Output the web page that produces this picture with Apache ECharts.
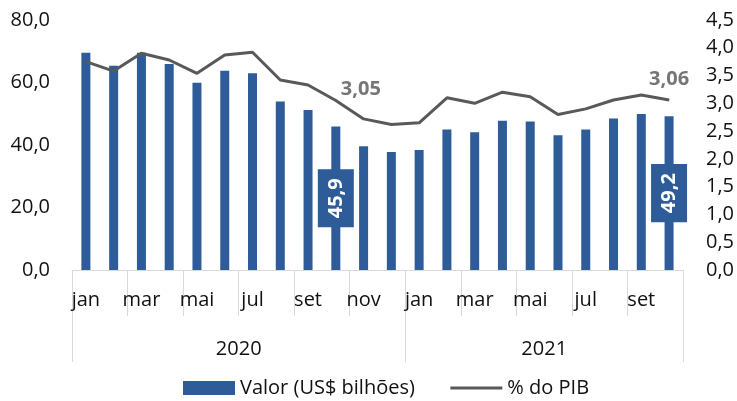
<!DOCTYPE html>
<html>
<head>
<meta charset="utf-8">
<title>Valor e % do PIB</title>
<script src="https://cdn.jsdelivr.net/npm/echarts@6/dist/echarts.min.js"></script>
<style>
  html, body { margin: 0; padding: 0; background: #fff; }
  #chart { width: 737px; height: 401px; }
</style>
</head>
<body>
<div id="chart"></div>
<script>
var years = ['2020', '2021'];
var months2020 = ['jan', 'fev', 'mar', 'abr', 'mai', 'jun', 'jul', 'ago', 'set', 'out', 'nov', 'dez'];
var months2021 = ['jan', 'fev', 'mar', 'abr', 'mai', 'jun', 'jul', 'ago', 'set', 'out'];

// US$ bilhões
var valor = [69.5, 65.4, 69.5, 65.9, 59.9, 63.8, 63.0, 53.9, 51.2, 45.9, 39.6, 37.8,
             38.4, 45.0, 44.1, 47.8, 47.5, 43.1, 45.0, 48.5, 49.9, 49.2];
// % do PIB
var pib = [3.75, 3.58, 3.90, 3.78, 3.54, 3.87, 3.92, 3.42, 3.33, 3.05, 2.72, 2.62,
           2.65, 3.10, 3.00, 3.20, 3.12, 2.80, 2.90, 3.06, 3.15, 3.06];

var leftTicks = [0, 80, 20];
var rightTicks = [0, 4.5, 0.5];

var labelIdx = [9, 21];

var categories = months2020.concat(months2021);
var yearOf = [];
var yearStart = [0, months2020.length];
for (var i = 0; i < months2020.length; i++) yearOf.push(years[0]);
for (var j = 0; j < months2021.length; j++) yearOf.push(years[1]);
// middle month of each year block (label shifted half a band to the right)
var yearMid = [5, months2020.length + 4];

var FONT = 'Open Sans';
var BLUE = '#2E5C98';
var GREY_LINE = '#595959';
var AXIS_GREY = '#D9D9D9';

function comma(v, d){
  return Number(v).toFixed(d).replace('.', ',');
}

var barData = [];
var lineData = [];
for (var k = 0; k < valor.length; k++) {
  var b = { value: valor[k] };
  var l = { value: pib[k] };
  if (labelIdx.indexOf(k) >= 0) {
    b.label = { show: true };
    // a tiny symbol is needed so the line label gets drawn
    l.symbol = 'circle';
    l.symbolSize = 1;
    l.label = { show: true, offset: k === labelIdx[0] ? [25, 4] : [0, -5] };
  }
  barData.push(b);
  lineData.push(l);
}

var chart = echarts.init(document.getElementById('chart'));

var option = {
  animation: false,
  textStyle: { fontFamily: FONT },
  grid: { left: 72, right: 54, top: 20, bottom: 131 },
  legend: {
    left: 178,
    bottom: -2,
    itemWidth: 52,
    itemHeight: 14,
    itemGap: 34,
    textStyle: { fontFamily: FONT, fontSize: 20, color: '#111' },
    data: [
      { name: 'Valor (US$ bilhões)', icon: 'rect' },
      { name: '% do PIB', itemStyle: { opacity: 0 }, lineStyle: { width: 3, color: GREY_LINE } }
    ]
  },
  xAxis: [{
    type: 'category',
    data: categories,
    position: 'bottom',
    axisLine: { lineStyle: { color: AXIS_GREY, width: 1 } },
    axisTick: { show: true, length: 46, lineStyle: { color: AXIS_GREY, width: 1 } },
    axisLabel: { interval: 1, margin: 20, fontSize: 20, color: '#111', fontFamily: FONT }
  }, {
    type: 'category',
    data: yearOf,
    position: 'bottom',
    axisLine: { show: false },
    axisTick: {
      show: true,
      length: 92,
      interval: function(idx){ return yearStart.indexOf(idx) >= 0; },
      lineStyle: { color: AXIS_GREY, width: 1 }
    },
    axisLabel: {
      interval: function(idx){ return yearMid.indexOf(idx) >= 0; },
      margin: 69,
      padding: [0, 0, 0, 28],
      fontSize: 20,
      color: '#111',
      fontFamily: FONT
    }
  }],
  yAxis: [{
    type: 'value',
    min: leftTicks[0], max: leftTicks[1], interval: leftTicks[2],
    axisLine: { show: false },
    axisTick: { show: false },
    splitLine: { show: false },
    axisLabel: {
      margin: 22, fontSize: 20, color: '#111', fontFamily: FONT,
      formatter: function(v){ return comma(v, 1); }
    }
  }, {
    type: 'value',
    min: rightTicks[0], max: rightTicks[1], interval: rightTicks[2],
    axisLine: { show: false },
    axisTick: { show: false },
    splitLine: { show: false },
    axisLabel: {
      margin: 23, fontSize: 20, color: '#111', fontFamily: FONT,
      formatter: function(v){ return comma(v, 1); }
    }
  }],
  series: [{
    name: 'Valor (US$ bilhões)',
    type: 'bar',
    xAxisIndex: 0,
    yAxisIndex: 0,
    barWidth: 9,
    itemStyle: { color: BLUE },
    label: {
      show: false,
      position: 'inside',
      rotate: 90,
      color: '#fff',
      fontWeight: 'bold',
      fontSize: 20,
      fontFamily: FONT,
      backgroundColor: BLUE,
      padding: [8, 9],
      formatter: function(p){ return comma(p.value, 1); }
    },
    data: barData
  }, {
    name: '% do PIB',
    type: 'line',
    xAxisIndex: 0,
    yAxisIndex: 1,
    symbol: 'none',
    showSymbol: true,
    z: 3,
    lineStyle: { color: GREY_LINE, width: 3 },
    itemStyle: { color: GREY_LINE },
    label: {
      show: false,
      position: 'top',
      color: '#767676',
      fontWeight: 'bold',
      fontSize: 20,
      fontFamily: FONT,
      formatter: function(p){ return comma(p.value, 2); }
    },
    data: lineData
  }]
};

chart.setOption(option);
</script>
</body>
</html>
